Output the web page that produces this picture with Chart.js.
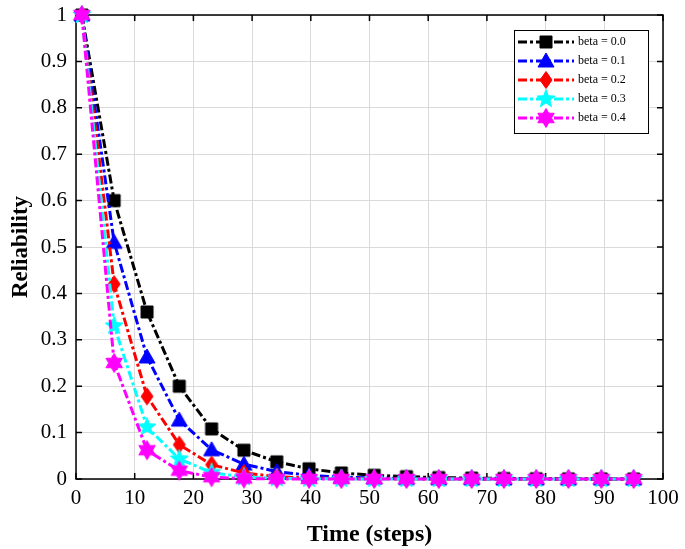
<!DOCTYPE html>
<html>
<head>
<meta charset="utf-8">
<script src="https://cdn.jsdelivr.net/npm/chart.js@4.4.1/dist/chart.umd.min.js"></script>
<style>
  html, body { margin: 0; padding: 0; background: #fff; }
  #wrap { width: 685px; height: 549px; }
</style>
</head>
<body>
<div id="wrap"><canvas id="c" width="685" height="549"></canvas></div>
<script>
// Données
const timeSteps = [1, 6.5, 12.1, 17.6, 23.1, 28.6, 34.2, 39.7, 45.2, 50.8, 56.3, 61.8, 67.4, 72.9, 78.4, 83.9, 89.5, 95];
const beta00 = [1, 0.60, 0.36, 0.20, 0.108, 0.062, 0.037, 0.022, 0.013, 0.008, 0.005, 0.003, 0.002, 0.001, 0.0006, 0.0004, 0.0002, 0.0001];
const beta01 = [1, 0.51, 0.263, 0.127, 0.063, 0.032, 0.016, 0.008, 0.004, 0.002, 0.001, 0.0005, 0.0003, 0.0001, 0.0001, 0, 0, 0];
const beta02 = [1, 0.42, 0.178, 0.074, 0.031, 0.013, 0.005, 0.002, 0.001, 0.0004, 0.0002, 0.0001, 0, 0, 0, 0, 0, 0];
const beta03 = [1, 0.33, 0.112, 0.043, 0.014, 0.004, 0.0015, 0.0005, 0.0002, 0.0001, 0, 0, 0, 0, 0, 0, 0, 0];
const beta04 = [1, 0.25, 0.062, 0.018, 0.004, 0.001, 0.0003, 0.0001, 0, 0, 0, 0, 0, 0, 0, 0, 0, 0];
const seriesLabels = ['beta = 0.0', 'beta = 0.1', 'beta = 0.2', 'beta = 0.3', 'beta = 0.4'];
const xTickValues = [0, 10, 20, 30, 40, 50, 60, 70, 80, 90, 100];
const xTickLabels = ['0', '10', '20', '30', '40', '50', '60', '70', '80', '90', '100'];
const yTickValues = [0, 0.1, 0.2, 0.3, 0.4, 0.5, 0.6, 0.7, 0.8, 0.9, 1];
const yTickLabels = ['0', '0.1', '0.2', '0.3', '0.4', '0.5', '0.6', '0.7', '0.8', '0.9', '1'];

const SERIF = '"Liberation Serif", "Times New Roman", serif';
const DASH = [9, 3, 3, 3];

// Fabrique un marqueur sous forme de canvas
function makeMarker(shape, color) {
    const s = 22;
    const cv = document.createElement('canvas');
    cv.width = s; cv.height = s;
    const g = cv.getContext('2d');
    const c = s / 2;
    g.fillStyle = color;
    g.strokeStyle = color;
    g.lineWidth = 1;
    g.beginPath();
    if (shape === 'square') {
        g.rect(c - 6, c - 6, 12, 12);
    } else if (shape === 'triangle') {
        g.moveTo(c, c - 8);
        g.lineTo(c + 8, c + 6);
        g.lineTo(c - 8, c + 6);
        g.closePath();
    } else if (shape === 'diamond') {
        g.moveTo(c, c - 8.5);
        g.lineTo(c + 6, c);
        g.lineTo(c, c + 8.5);
        g.lineTo(c - 6, c);
        g.closePath();
    } else {
        const pts = shape === 'pentagram' ? 5 : 6;
        const ro = 9.5, ri = shape === 'pentagram' ? 4 : 5.5;
        for (let i = 0; i < pts * 2; i++) {
            const r = i % 2 === 0 ? ro : ri;
            const a = -Math.PI / 2 + i * Math.PI / pts;
            const px = c + r * Math.cos(a), py = c + r * Math.sin(a);
            if (i === 0) g.moveTo(px, py); else g.lineTo(px, py);
        }
        g.closePath();
    }
    g.fill();
    g.stroke();
    return cv;
}

const styles = [
    { color: '#000000', marker: makeMarker('square', '#000000') },
    { color: '#0000ff', marker: makeMarker('triangle', '#0000ff') },
    { color: '#ff0000', marker: makeMarker('diamond', '#ff0000') },
    { color: '#00ffff', marker: makeMarker('pentagram', '#00ffff') },
    { color: '#ff00ff', marker: makeMarker('hexagram', '#ff00ff') }
];
const allSeries = [beta00, beta01, beta02, beta03, beta04];

const datasets = allSeries.map((vals, i) => ({
    label: seriesLabels[i],
    data: vals.map((v, k) => ({ x: timeSteps[k], y: v })),
    borderColor: styles[i].color,
    backgroundColor: styles[i].color,
    borderWidth: 3,
    borderDash: DASH,
    pointStyle: styles[i].marker,
    pointRadius: 7,
    tension: 0,
    clip: false,
    order: 4 - i
}));

// Cadre, petites graduations intérieures et légende
const framePlugin = {
    id: 'frame',
    beforeDatasetsDraw(chart) {
        const { ctx, chartArea: a, scales } = chart;
        ctx.save();
        ctx.strokeStyle = '#000';
        ctx.lineWidth = 1.5;
        ctx.beginPath();
        xTickValues.forEach(v => {
            const px = scales.x.getPixelForValue(v);
            ctx.moveTo(px, a.bottom); ctx.lineTo(px, a.bottom - 6);
            ctx.moveTo(px, a.top); ctx.lineTo(px, a.top + 6);
        });
        yTickValues.forEach(v => {
            const py = scales.y.getPixelForValue(v);
            ctx.moveTo(a.left, py); ctx.lineTo(a.left + 6, py);
            ctx.moveTo(a.right, py); ctx.lineTo(a.right - 6, py);
        });
        ctx.stroke();
        ctx.strokeRect(a.left, a.top, a.right - a.left, a.bottom - a.top);
        ctx.restore();
    },
    afterDraw(chart) {
        const { ctx } = chart;
        const bx = 514, by = 30, bw = 134, bh = 103;
        ctx.save();
        ctx.fillStyle = '#fff';
        ctx.fillRect(bx, by, bw, bh);
        ctx.strokeStyle = '#000';
        ctx.lineWidth = 1;
        ctx.strokeRect(bx + 0.5, by + 0.5, bw, bh);
        seriesLabels.forEach((lab, i) => {
            const y = 42 + i * 19;
            ctx.strokeStyle = styles[i].color;
            ctx.lineWidth = 3;
            ctx.setLineDash(DASH);
            ctx.beginPath();
            ctx.moveTo(518, y); ctx.lineTo(574, y);
            ctx.stroke();
            ctx.setLineDash([]);
            const m = styles[i].marker;
            ctx.drawImage(m, 546 - m.width / 2, y - m.height / 2);
            ctx.fillStyle = '#000';
            ctx.font = '12px ' + SERIF;
            ctx.textBaseline = 'middle';
            ctx.textAlign = 'left';
            ctx.fillText(lab, 578, y);
        });
        ctx.restore();
    }
};

const ctx = document.getElementById('c').getContext('2d');
new Chart(ctx, {
    type: 'line',
    data: { datasets: datasets },
    options: {
        responsive: false,
        animation: false,
        layout: { padding: { left: 0, right: 22, top: 15, bottom: 0 } },
        plugins: { legend: { display: false }, tooltip: { enabled: false } },
        scales: {
            x: {
                type: 'linear',
                min: 0,
                max: 100,
                afterBuildTicks: s => { s.ticks = xTickValues.map(v => ({ value: v })); },
                afterFit: s => { s.height = 70; s.paddingLeft = 0; s.paddingRight = 0; },
                grid: { color: '#dadada', lineWidth: 1, drawTicks: false },
                border: { display: false },
                ticks: {
                    padding: 7,
                    color: '#000',
                    maxRotation: 0,
                    autoSkip: false,
                    font: { family: SERIF, size: 21 },
                    callback: (v, i) => xTickLabels[i]
                },
                title: {
                    display: true,
                    text: 'Time (steps)',
                    color: '#000',
                    padding: { top: 0, bottom: 0 },
                    font: { family: SERIF, size: 24, weight: 'bold' }
                }
            },
            y: {
                type: 'linear',
                min: 0,
                max: 1,
                afterBuildTicks: s => { s.ticks = yTickValues.map(v => ({ value: v })); },
                afterFit: s => { s.width = 76; s.paddingTop = 0; s.paddingBottom = 0; },
                grid: { color: '#dadada', lineWidth: 1, drawTicks: false },
                border: { display: false },
                ticks: {
                    padding: 9,
                    color: '#000',
                    autoSkip: false,
                    font: { family: SERIF, size: 21 },
                    callback: (v, i) => yTickLabels[i]
                },
                title: {
                    display: true,
                    text: 'Reliability',
                    color: '#000',
                    padding: { top: 7, bottom: 0 },
                    font: { family: SERIF, size: 23, weight: 'bold' }
                }
            }
        }
    },
    plugins: [framePlugin]
});
</script>
</body>
</html>
